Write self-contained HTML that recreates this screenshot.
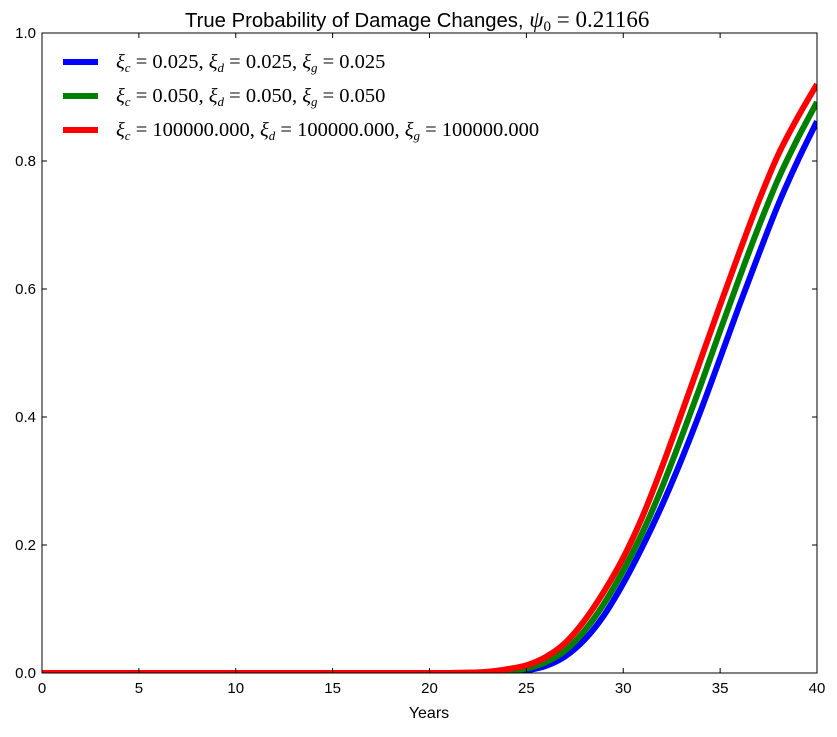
<!DOCTYPE html>
<html><head><meta charset="utf-8"><style>
body{margin:0;background:#fff;}
svg text{font-family:"Liberation Sans",sans-serif;}
.m{font-family:"Liberation Serif","DejaVu Serif",serif;}
</style></head><body>
<svg id="c" width="837" height="732" xmlns="http://www.w3.org/2000/svg"></svg>
<script>
const years=[20,21,22,23,24,25,26,27,28,29,30,31,32,33,34,35,36,37,38,39,40];
const blueVals=[0,0,0,0.0003,0.001,0.004,0.011,0.026,0.052,0.09,0.14,0.198,0.262,0.333,0.41,0.492,0.575,0.655,0.732,0.80,0.862];
const greenVals=[0,0,0.0003,0.001,0.003,0.007,0.017,0.035,0.066,0.108,0.16,0.22,0.29,0.368,0.45,0.535,0.618,0.698,0.772,0.835,0.892];
const redVals=[0,0,0.0005,0.002,0.006,0.012,0.025,0.047,0.082,0.127,0.18,0.245,0.322,0.405,0.49,0.575,0.658,0.738,0.81,0.868,0.92];
const xTicks=[0,5,10,15,20,25,30,35,40];
const yTicks=[0.0,0.2,0.4,0.6,0.8,1.0];
const X0=42,X1=817,Y0=673,Y1=33;
const sx=v=>X0+(v/40)*(X1-X0), sy=v=>Y0-v*(Y0-Y1);
const svg=document.getElementById('c'),NS='http://www.w3.org/2000/svg';
function mk(t,a,p){const e=document.createElementNS(NS,t);for(const k in a)e.setAttribute(k,a[k]);(p||svg).appendChild(e);return e;}
const clip=mk('clipPath',{id:'cp'});mk('rect',{x:X0,y:Y1,width:X1-X0,height:Y0-Y1},clip);
function pathFor(vals){
  const pts=[[sx(0),sy(0)]].concat(years.map((y,i)=>[sx(y),sy(vals[i])]));
  let d='M'+pts[0][0]+','+pts[0][1];
  for(let i=0;i<pts.length-1;i++){
    const p0=pts[Math.max(0,i-1)],p1=pts[i],p2=pts[i+1],p3=pts[Math.min(pts.length-1,i+2)];
    const c1=[p1[0]+(p2[0]-p0[0])/6,p1[1]+(p2[1]-p0[1])/6],c2=[p2[0]-(p3[0]-p1[0])/6,p2[1]-(p3[1]-p1[1])/6];
    if(i===0){c1[0]=p1[0]+(p2[0]-p1[0])/3;c1[1]=p1[1];}
    d+=`C${c1[0]},${c1[1]} ${c2[0]},${c2[1]} ${p2[0]},${p2[1]}`;
  }
  return d;
}
const series=[['blue-line',blueVals,'#0000ff'],['green-line',greenVals,'#008000'],['red-line',redVals,'#ff0000']];
const g=mk('g',{'clip-path':'url(#cp)'});


series.forEach(s=>{const p=mk('path',{d:pathFor(s[1]),fill:'none',stroke:s[2],'stroke-width':6},g);

});
const fr=mk('rect',{x:X0,y:Y1,width:X1-X0,height:Y0-Y1,fill:'none',stroke:'#000','stroke-width':1});


xTicks.forEach(t=>{const x=sx(t);
  mk('line',{x1:x,x2:x,y1:Y0,y2:Y0-5,stroke:'#000'});mk('line',{x1:x,x2:x,y1:Y1,y2:Y1+5,stroke:'#000'});
  const tx=mk('text',{x:x,y:Y0+20,'text-anchor':'middle','font-size':15});tx.textContent=t;
  
  });
yTicks.forEach(t=>{const y=sy(t);
  mk('line',{x1:X0,x2:X0+5,y1:y,y2:y,stroke:'#000'});mk('line',{x1:X1,x2:X1-5,y1:y,y2:y,stroke:'#000'});
  const tx=mk('text',{x:X0-6,y:y+5,'text-anchor':'end','font-size':15});tx.textContent=t.toFixed(1);
  
  });
const xl=mk('text',{x:429,y:718,'text-anchor':'middle','font-size':16});xl.textContent='Years';


const tt=mk('text',{x:185,y:27,'font-size':20.3});
tt.innerHTML='True Probability of Damage Changes, <tspan class="m" font-style="italic" font-size="23">ψ</tspan><tspan class="m" font-size="15" dy="4">0</tspan><tspan dy="-4" class="m" font-size="23"> = 0.21166</tspan>';


const labels=[['0.025','0.025','0.025'],['0.050','0.050','0.050'],['100000.000','100000.000','100000.000']];
const ly=[62,96,130];
series.forEach((s,i)=>{
  const lg=mk('g',{});
  
  
  mk('line',{x1:63,x2:98,y1:ly[i],y2:ly[i],stroke:s[2],'stroke-width':6},lg);
  const t=mk('text',{x:116,y:ly[i]+6,'font-size':20.5,class:'m'},lg);
  const L=labels[i];
  t.innerHTML=`<tspan font-style="italic">ξ</tspan><tspan font-style="italic" font-size="13" dy="4">c</tspan><tspan dy="-4"> = ${L[0]}, </tspan><tspan font-style="italic">ξ</tspan><tspan font-style="italic" font-size="13" dy="4">d</tspan><tspan dy="-4"> = ${L[1]}, </tspan><tspan font-style="italic">ξ</tspan><tspan font-style="italic" font-size="13" dy="4">g</tspan><tspan dy="-4"> = ${L[2]}</tspan>`;
});
</script>
</body></html>
